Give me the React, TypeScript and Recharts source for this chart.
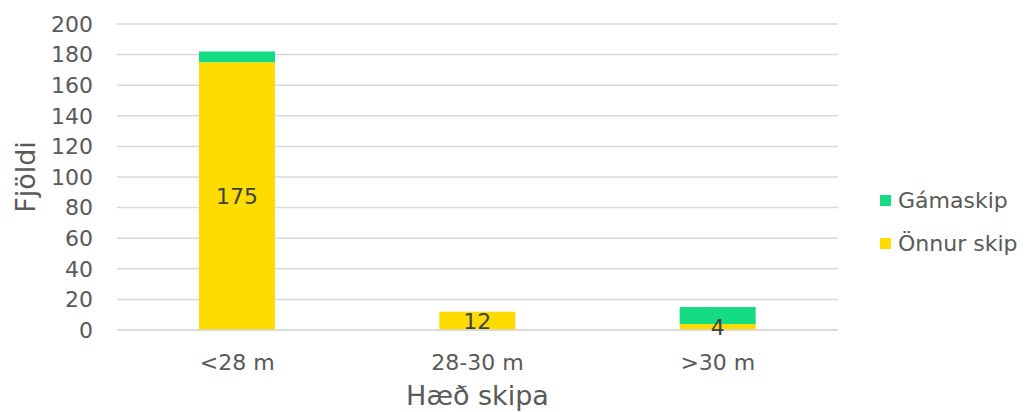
import React from 'react'
import { BarChart, Bar, XAxis, YAxis, CartesianGrid, Legend, LabelList } from 'recharts'

const categories = ['<28 m', '28-30 m', '>30 m']
const onnurSkip = [175, 12, 4]
const gamaskip = [7, 0, 11]
const yTicks = [0, 20, 40, 60, 80, 100, 120, 140, 160, 180, 200]

const data = categories.map((name, i) => ({
    name,
    onnur: onnurSkip[i],
    gama: gamaskip[i],
}))

const FONT = '"DejaVu Sans", sans-serif'
const GREY = '#595959'

const legendItems = [
    { label: 'Gámaskip', color: '#14DC82' },
    { label: 'Önnur skip', color: '#FFDC00' },
]

function LegendBox() {
    return (
        <div style={{ width: 170, paddingLeft: 42, boxSizing: 'border-box', fontFamily: FONT }}>
            {legendItems.map((item) => (
                <div key={item.label} style={{ display: 'flex', alignItems: 'center', height: 43 }}>
                    <span style={{ width: 11, height: 11, flexShrink: 0, background: item.color, marginRight: 7 }} />
                    <span style={{ fontSize: 22, color: GREY, whiteSpace: 'nowrap' }}>{item.label}</span>
                </div>
            ))}
        </div>
    )
}

function YTitle(props: any) {
    const vb = props.viewBox
    const cy = vb.y + vb.height / 2
    return (
        <text x={25} y={cy} transform={`rotate(-90, 25, ${cy})`} textAnchor="middle" dominantBaseline="central"
            fontFamily={FONT} fontSize={27} fill={GREY}>
            Fjöldi
        </text>
    )
}

export default function App() {
    return (
        <div style={{ margin: '-8px 0 0 -8px', width: 1026, height: 412 }}>
            <BarChart width={1026} height={412} data={data} margin={{ top: 24, right: 18, bottom: 0, left: 0 }}
                barSize={76}>
                <CartesianGrid vertical={false} stroke="#d9d9d9" strokeWidth={1.5} />
                <XAxis dataKey="name" height={82} tickLine={false} tickSize={0} tickMargin={24}
                    axisLine={{ stroke: '#d9d9d9', strokeWidth: 1.5 }}
                    tick={{ fontFamily: FONT, fontSize: 22, fill: GREY }}
                    label={{ value: 'Hæð skipa', position: 'insideBottom', offset: 7, style: { fontFamily: FONT, fontSize: 27, fill: GREY } }} />
                <YAxis width={117} domain={[0, 200]} ticks={yTicks} interval={0} axisLine={false} tickLine={false}
                    tickSize={0} tickMargin={24} tick={{ fontFamily: FONT, fontSize: 22, fill: GREY }}
                    label={<YTitle />} />
                <Legend layout="vertical" align="right" verticalAlign="middle" content={<LegendBox />}
                    wrapperStyle={{ top: 179 }} />
                <Bar dataKey="onnur" stackId="a" fill="#FFDC00" isAnimationActive={false}>
                    <LabelList dataKey="onnur" position="center" fill="#404040" fontFamily={FONT} fontSize={22} />
                </Bar>
                <Bar dataKey="gama" stackId="a" fill="#14DC82" isAnimationActive={false} />
            </BarChart>
        </div>
    )
}
